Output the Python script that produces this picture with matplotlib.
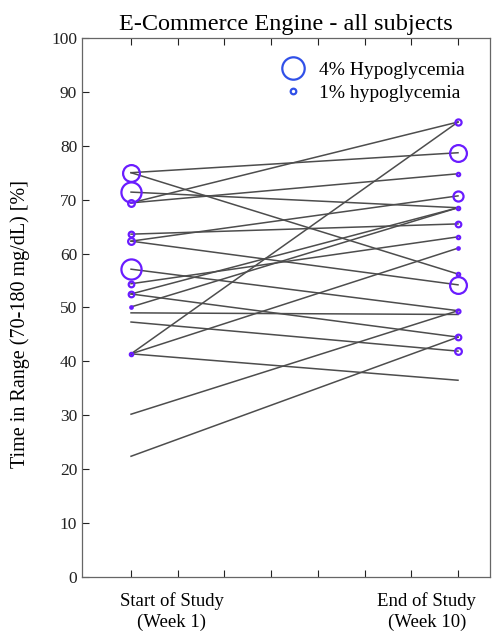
import matplotlib
matplotlib.use("Agg")
import matplotlib.pyplot as plt
from matplotlib.lines import Line2D
import numpy as np

plt.rcParams['font.family'] = ['Liberation Serif', 'DejaVu Serif']

title = "E-Commerce Engine - all subjects"
ylabel = "Time in Range (70-180 mg/dL) [%]"
categories = ["Start of Study\n(Week 1)", "End of Study\n(Week 10)"]

# per-subject time in range, start and end
tir_start = [75.0, 75.0, 71.4, 69.4, 69.4, 63.6, 62.3, 62.3, 57.1, 54.4,
             52.5, 52.5, 50.1, 49.0, 47.3, 41.4, 41.4, 41.4, 30.2, 22.4]
tir_end = [78.7, 56.2, 68.5, 84.4, 74.8, 65.5, 70.7, 54.2, 49.4, 63.1,
           68.5, 44.5, 68.5, 48.7, 41.9, 84.4, 61.0, 36.5, 49.4, 44.5]

# hypoglycemia markers (TIR value, % hypoglycemia)
hypo_start_tir = [75.0, 71.4, 69.4, 63.6, 62.3, 57.1, 54.4, 52.5, 50.1, 41.4]
hypo_start_pct = [3.0, 3.6, 1.2, 1.0, 1.2, 3.6, 1.0, 1.0, 0.4, 0.6]
hypo_end_tir = [84.4, 78.7, 74.8, 70.7, 68.5, 65.5, 63.1, 61.0, 56.2, 54.2,
                49.4, 44.5, 41.9]
hypo_end_pct = [1.1, 3.0, 0.6, 1.8, 0.6, 1.0, 0.6, 0.3, 0.6, 3.0, 0.7, 1.0, 1.2]

legend_pct = [4, 1]
legend_labels = ["4% Hypoglycemia", "1% hypoglycemia"]

DPI = 100
fig = plt.figure(figsize=(4.97, 6.32), dpi=DPI)
ax = fig.add_axes([0.165, 0.087, 0.821, 0.853])

x_pos = [0, 1]
for s, e in zip(tir_start, tir_end):
    ax.plot(x_pos, [s, e], color='#4d4d4d', lw=1.1, zorder=2)

marker_color = '#6a1cff'
px_per_pct = 5.6  # marker diameter in pixels per % hypoglycemia


def ms(p):
    return max(p * px_per_pct, 2.5) * 72 / DPI

for xv, tirs, pcts in [(0, hypo_start_tir, hypo_start_pct),
                       (1, hypo_end_tir, hypo_end_pct)]:
    for t, p in zip(tirs, pcts):
        ax.plot([xv], [t], marker='o', ms=ms(p), mfc='none',
                mec=marker_color, mew=1.6, zorder=3)

ax.set_xlim(-0.150, 1.098)
ax.set_ylim(0, 100)
ax.set_yticks(np.arange(0, 101, 10))
ax.set_xticks(np.arange(0, 8) / 7)
ax.set_xticklabels([])
ax.tick_params(direction='in', top=True, right=True, length=5, width=0.8,
               labelsize=12.5, colors='#222222')
ax.tick_params(axis='y', right=False)
for sp in ax.spines.values():
    sp.set_color('#666666')
    sp.set_linewidth(0.9)

ax.set_title(title, fontsize=17.5, pad=6)
ax.set_ylabel(ylabel, fontsize=14.5)
ax.yaxis.set_label_coords(-0.128, 0.47)

for xa, lab in zip([0.22, 0.845], categories):
    ax.text(xa, -0.028, lab, transform=ax.transAxes, ha='center', va='top',
            fontsize=13.5, linespacing=1.3)

handles = [Line2D([], [], ls='none', marker='o', ms=ms(p), mfc='none',
                  mec='#3050e8', mew=1.6) for p in legend_pct]
ax.legend(handles, legend_labels, loc='upper right', frameon=False,
          fontsize=14, handletextpad=0.3, labelspacing=0.25,
          bbox_to_anchor=(0.975, 0.985), borderpad=0.3)

fig.savefig("out.png", dpi=DPI)
